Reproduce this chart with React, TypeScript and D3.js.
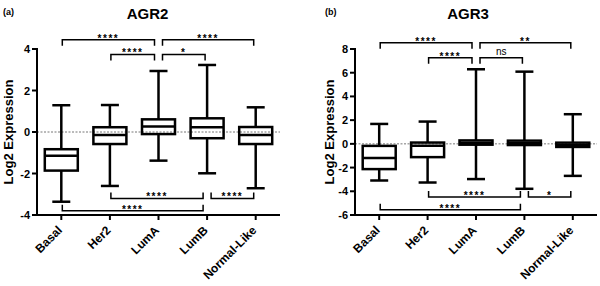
import React from "react";
import * as d3 from "d3";

const categories = ["Basal", "Her2", "LumA", "LumB", "Normal-Like"];

// AGR2 (panel a)
const agr2Max = [1.29, 1.3, 2.94, 3.23, 1.19];
const agr2Q3 = [-0.83, 0.23, 0.61, 0.66, 0.24];
const agr2Median = [-1.14, -0.14, 0.26, 0.23, -0.14];
const agr2Q1 = [-1.86, -0.58, -0.1, -0.3, -0.58];
const agr2Min = [-3.36, -2.6, -1.38, -1.99, -2.71];
const agr2Ticks = [4, 2, 0, -2, -4];

// AGR3 (panel b)
const agr3Max = [1.68, 1.88, 6.29, 6.09, 2.5];
const agr3Q3 = [-0.17, 0.11, 0.29, 0.27, 0.1];
const agr3Median = [-1.2, -0.17, 0.1, 0.05, -0.12];
const agr3Q1 = [-2.13, -1.12, -0.07, -0.1, -0.26];
const agr3Min = [-3.09, -3.26, -2.97, -3.79, -2.7];
const agr3Ticks = [8, 6, 4, 2, 0, -2, -4, -6];

// significance brackets: [fromIdx, toIdx, level (data units), label, direction]
type Br = [number, number, number, string, "down" | "up"];
const agr2Brackets: Br[] = [
  [0, 2, 4.45, "****", "down"],
  [2, 4, 4.45, "****", "down"],
  [1, 2, 3.74, "****", "down"],
  [2, 3, 3.74, "*", "down"],
  [1, 3, -3.2, "****", "up"],
  [3, 4, -3.2, "****", "up"],
  [0, 3, -3.79, "****", "up"],
];
const agr3Brackets: Br[] = [
  [0, 2, 8.53, "****", "down"],
  [2, 4, 8.53, "**", "down"],
  [1, 2, 7.27, "****", "down"],
  [2, 3, 7.27, "ns", "down"],
  [1, 3, -4.49, "****", "up"],
  [3, 4, -4.49, "*", "up"],
  [0, 3, -5.56, "****", "up"],
];

const FONT = "'Liberation Sans', Arial, Helvetica, sans-serif";

type PanelProps = {
  x0: number;
  x1: number;
  domain: [number, number];
  ticks: number[];
  max: number[];
  q3: number[];
  med: number[];
  q1: number[];
  min: number[];
  brackets: Br[];
  title: string;
  titleX: number;
  letter: string;
  letterX: number;
  labelX: number;
};

function Panel(p: PanelProps) {
  const x = d3.scaleBand<string>().domain(categories).range([p.x0, p.x1]);
  const y = d3.scaleLinear().domain(p.domain).range([215, 49]);
  const cx = (i: number) => (x(categories[i]) as number) + x.bandwidth() / 2;
  const boxW = 33;
  const capW = 18;
  // bracket end offsets: where two brackets meet at the same category, pull apart
  const endX = (b: Br, side: 0 | 1) => {
    const i = side === 0 ? b[0] : b[1];
    const c = cx(i);
    const others = p.brackets.filter(
      (o) => o !== b && o[2] === b[2] && (side === 0 ? o[1] === i : o[0] === i)
    );
    if (others.length) return side === 0 ? c + 4 : c - 4;
    if (b[4] === "up" && side === 1 && p.brackets.some((o) => o[4] === "up" && o[0] === i && o !== b)) return c - 4;
    return side === 0 ? c + 1 : c - 2;
  };
  const yMid = (p.domain[0] + p.domain[1]) / 2;
  return (
    <g>
      <text x={p.letterX} y={15} fontFamily={FONT} fontWeight="bold" fontSize={9}>
        {p.letter}
      </text>
      <text x={p.titleX} y={19} textAnchor="middle" fontFamily={FONT} fontWeight="bold" fontSize={15}>
        {p.title}
      </text>
      <text
        transform={`translate(${p.labelX},${y(yMid)}) rotate(-90)`}
        textAnchor="middle"
        fontFamily={FONT}
        fontWeight="bold"
        fontSize={13}
      >
        Log2 Expression
      </text>
      {/* zero line */}
      <line x1={p.x0} x2={p.x1} y1={y(0)} y2={y(0)} stroke="#777" strokeWidth={1} strokeDasharray="2,1.5" />
      {/* boxes */}
      {categories.map((c, i) => {
        const m = cx(i);
        return (
          <g key={c} stroke="#000" strokeWidth={2.5} fill="none">
            <line x1={m} x2={m} y1={y(p.max[i])} y2={y(p.q3[i])} />
            <line x1={m} x2={m} y1={y(p.q1[i])} y2={y(p.min[i])} />
            <line x1={m - capW / 2} x2={m + capW / 2} y1={y(p.max[i])} y2={y(p.max[i])} />
            <line x1={m - capW / 2} x2={m + capW / 2} y1={y(p.min[i])} y2={y(p.min[i])} />
            <rect x={m - boxW / 2} width={boxW} y={y(p.q3[i])} height={y(p.q1[i]) - y(p.q3[i])} />
            <line x1={m - boxW / 2} x2={m + boxW / 2} y1={y(p.med[i])} y2={y(p.med[i])} />
          </g>
        );
      })}
      {/* brackets */}
      {p.brackets.map((b, k) => {
        const xa = endX(b, 0);
        const xb = endX(b, 1);
        const yy = y(b[2]);
        const t = b[4] === "down" ? 6 : -6;
        const isNs = b[3] === "ns";
        return (
          <g key={k}>
            <path
              d={`M${xa},${yy + t}V${yy}H${xb}V${yy + t}`}
              fill="none"
              stroke="#000"
              strokeWidth={1.5}
            />
            <text
              x={(xa + xb) / 2}
              y={isNs ? yy - 2.5 : yy + 2}
              textAnchor="middle"
              fontFamily={FONT}
              fontWeight={isNs ? "normal" : "bold"}
              fontSize={10}
              letterSpacing={isNs ? 0 : 1.5}
            >
              {b[3]}
            </text>
          </g>
        );
      })}
      {/* y axis */}
      <line x1={p.x0} x2={p.x0} y1={y(p.domain[1])} y2={y(p.domain[0])} stroke="#000" strokeWidth={2} strokeLinecap="square" />
      {p.ticks.map((t) => (
        <g key={t}>
          <line x1={p.x0 - 5} x2={p.x0} y1={y(t)} y2={y(t)} stroke="#000" strokeWidth={2} />
          <text x={p.x0 - 7} y={y(t) + 4} textAnchor="end" fontFamily={FONT} fontWeight="bold" fontSize={11}>
            {t}
          </text>
        </g>
      ))}
      {/* x axis */}
      <line x1={p.x0} x2={p.x1} y1={215} y2={215} stroke="#000" strokeWidth={2} />
      {categories.map((c, i) => (
        <g key={c}>
          <line x1={cx(i)} x2={cx(i)} y1={215} y2={220} stroke="#000" strokeWidth={2} />
          <text
            transform={`translate(${cx(i) + 1.5},${231}) rotate(-45)`}
            textAnchor="end"
            fontFamily={FONT}
            fontWeight="bold"
            fontSize={12}
          >
            {c}
          </text>
        </g>
      ))}
    </g>
  );
}

export default function App() {
  return (
    <svg width={600} height={286} style={{ position: "absolute", left: 0, top: 0, background: "#fff" }}>
      <rect width={600} height={286} fill="#fff" />
      <Panel
        x0={37}
        x1={280}
        domain={[-4, 4]}
        ticks={agr2Ticks}
        max={agr2Max}
        q3={agr2Q3}
        med={agr2Median}
        q1={agr2Q1}
        min={agr2Min}
        brackets={agr2Brackets}
        title="AGR2"
        titleX={147.5}
        letter="(a)"
        letterX={3}
        labelX={12.5}
      />
      <Panel
        x0={355}
        x1={597}
        domain={[-6, 8]}
        ticks={agr3Ticks}
        max={agr3Max}
        q3={agr3Q3}
        med={agr3Median}
        q1={agr3Q1}
        min={agr3Min}
        brackets={agr3Brackets}
        title="AGR3"
        titleX={468}
        letter="(b)"
        letterX={325}
        labelX={334}
      />
    </svg>
  );
}
